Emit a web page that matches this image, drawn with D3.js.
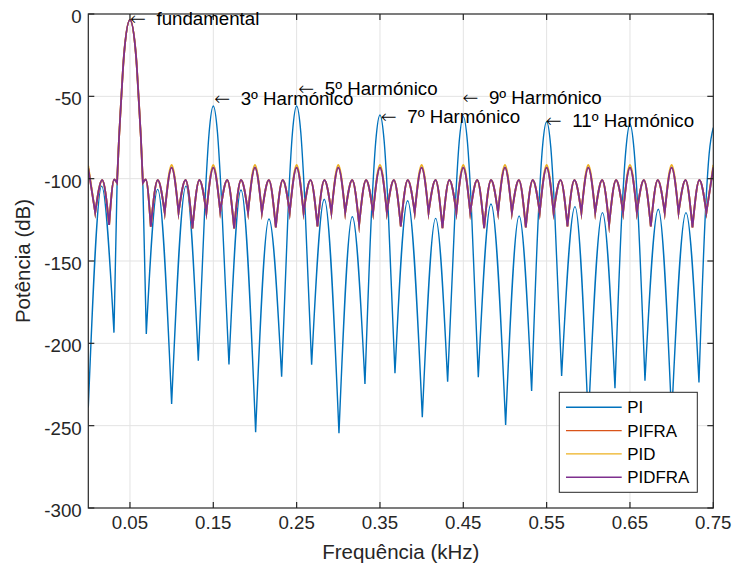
<!DOCTYPE html>
<html>
<head>
<meta charset="utf-8">
<script src="https://cdn.jsdelivr.net/npm/d3@7"></script>
<style>
  body { margin: 0; background: #fff; }
  svg { display: block; }
  text { font-family: "Liberation Sans", Arial, Helvetica, sans-serif; fill: #000; }
</style>
</head>
<body>
<svg id="chart" width="735" height="572"></svg>
<script>
// ---- axes ----
const xTicks = [0.05, 0.15, 0.25, 0.35, 0.45, 0.55, 0.65, 0.75];
const yTicks = [0, -50, -100, -150, -200, -250, -300];
const xLabel = "Frequência (kHz)";
const yLabel = "Potência (dB)";

// ---- series ----
const seriesNames  = ["PI", "PIFRA", "PID", "PIDFRA"];
const seriesColors = ["#0072BD", "#D95319", "#EDB120", "#7E2F8E"];

// PI spectrum: lobe peaks and nulls (kHz, dB)
const piFreq = [
  0.000, 0.016, 0.0308, 0.0345, 0.0369, 0.0397, 0.0428, 0.05, 0.0572, 0.0603, 0.0631, 0.0655, 0.0696,
  0.0832, 0.100, 0.1172, 0.132,
  0.1406, 0.145, 0.150, 0.155, 0.1594, 0.1688,
  0.1832, 0.2008, 0.2168, 0.232,
  0.2406, 0.245, 0.250, 0.255, 0.2594, 0.268,
  0.2832, 0.3008, 0.3168, 0.332,
  0.3406, 0.345, 0.350, 0.355, 0.3594, 0.368,
  0.3832, 0.4008, 0.4168, 0.4312,
  0.4406, 0.445, 0.450, 0.455, 0.4594, 0.468,
  0.4832, 0.5008, 0.517, 0.532,
  0.5406, 0.545, 0.550, 0.555, 0.5594, 0.568,
  0.584, 0.600, 0.617, 0.632,
  0.6406, 0.645, 0.650, 0.655, 0.6594, 0.668,
  0.684, 0.700, 0.7172, 0.7328,
  0.7406, 0.745, 0.750
];
const piDb = [
  -239, -104.5, -193.5, -104, -75, -50, -25, -3.6, -25, -50, -75, -104, -194.3,
  -106.5, -236.8, -104.5, -210.5,
  -108, -72, -55.9, -72, -108, -212.8,
  -106.9, -254, -124.5, -220.3,
  -109, -72, -55.9, -72, -109, -213,
  -112.5, -254.6, -123.1, -224.7,
  -113, -77, -61.3, -77, -113, -218.2,
  -113.4, -244.9, -124.1, -223.3,
  -114, -78, -62.3, -78, -114, -220.6,
  -115.4, -249.6, -122.7, -229,
  -117, -81, -65.4, -81, -117, -219.8,
  -117, -248, -120.6, -227.3,
  -118, -83, -66.8, -83, -118, -222.7,
  -118.6, -245, -120.6, -223.7,
  -120, -85, -69
];

// PIFRA / PID / PIDFRA share one frequency grid (kHz)
const fraFreq = [
  0.000, 0.0083, 0.0167, 0.025, 0.031, 0.0345, 0.0369, 0.0397, 0.0428, 0.050,
  0.0572, 0.0603, 0.0631, 0.0655, 0.069, 0.075, 0.0833, 0.0917,
  0.100, 0.1083, 0.1167, 0.125, 0.1333, 0.1417,
  0.150, 0.1583, 0.1667, 0.175, 0.1833, 0.1917,
  0.200, 0.2083, 0.2167, 0.225, 0.2333, 0.2417,
  0.250, 0.2583, 0.2667, 0.275, 0.2833, 0.2917,
  0.300, 0.3083, 0.3167, 0.325, 0.3333, 0.3417,
  0.350, 0.3583, 0.3667, 0.375, 0.3833, 0.3917,
  0.400, 0.4083, 0.4167, 0.425, 0.4333, 0.4417,
  0.450, 0.4583, 0.4667, 0.475, 0.4833, 0.4917,
  0.500, 0.5083, 0.5167, 0.525, 0.5333, 0.5417,
  0.550, 0.5583, 0.5667, 0.575, 0.5833, 0.5917,
  0.600, 0.6083, 0.6167, 0.625, 0.6333, 0.6417,
  0.650, 0.6583, 0.6667, 0.675, 0.6833, 0.6917,
  0.700, 0.7083, 0.7167, 0.725, 0.7333, 0.7417,
  0.750
];
const pidfraDb = [
  -93.7, -120.6, -100.8, -128.1, -100.5, -102.5, -75, -50, -25, -3.6,
  -25, -50, -75, -102.5, -100.5, -129.2, -100.8, -120.6,
  -93.1, -120.6, -100.8, -130.2, -100.8, -120.6,
  -93.1, -120.0, -100.8, -130.2, -100.8, -120.6,
  -93.1, -120.6, -100.8, -129.6, -100.8, -120.6,
  -93.1, -120.6, -100.8, -129.0, -100.8, -120.6,
  -93.1, -120.6, -100.8, -128.0, -100.8, -120.6,
  -93.1, -120.6, -100.8, -129.0, -100.8, -120.6,
  -93.1, -120.6, -100.8, -130.0, -100.8, -120.6,
  -93.1, -120.6, -100.8, -130.0, -100.8, -120.6,
  -93.1, -120.6, -100.8, -129.6, -100.8, -120.6,
  -93.1, -120.6, -100.8, -129.0, -100.8, -120.6,
  -93.1, -120.6, -100.8, -128.0, -100.8, -120.6,
  -93.1, -120.6, -100.8, -129.0, -100.8, -120.6,
  -93.1, -120.6, -100.8, -129.6, -100.8, -120.6,
  -93.1
];
const pidDb = [
  -92.2, -120.6, -100.8, -128.1, -100.5, -102.5, -75, -50, -25, -3.6,
  -25, -50, -75, -102.5, -100.5, -129.2, -100.8, -120.6,
  -91.7, -120.6, -100.8, -130.2, -100.8, -120.6,
  -91.7, -120.0, -100.8, -130.2, -100.8, -120.6,
  -91.7, -120.6, -100.8, -129.6, -100.8, -120.6,
  -91.7, -120.6, -100.8, -129.0, -100.8, -120.6,
  -91.7, -120.6, -100.8, -128.0, -100.8, -120.6,
  -91.7, -120.6, -100.8, -129.0, -100.8, -120.6,
  -91.7, -120.6, -100.8, -130.0, -100.8, -120.6,
  -91.7, -120.6, -100.8, -130.0, -100.8, -120.6,
  -91.7, -120.6, -100.8, -129.6, -100.8, -120.6,
  -91.7, -120.6, -100.8, -129.0, -100.8, -120.6,
  -91.7, -120.6, -100.8, -128.0, -100.8, -120.6,
  -91.7, -120.6, -100.8, -129.0, -100.8, -120.6,
  -91.7, -120.6, -100.8, -129.6, -100.8, -120.6,
  -91.7
];
const pifraDb = [
  -93.9, -120.6, -100.9, -128.1, -100.6, -102.5, -75, -50, -25, -3.6,
  -25, -50, -75, -102.5, -100.6, -129.2, -100.9, -120.6,
  -93.3, -120.6, -100.9, -130.2, -100.9, -120.6,
  -93.3, -120.0, -100.9, -130.2, -100.9, -120.6,
  -93.3, -120.6, -100.9, -129.6, -100.9, -120.6,
  -93.3, -120.6, -100.9, -129.0, -100.9, -120.6,
  -93.3, -120.6, -100.9, -128.0, -100.9, -120.6,
  -93.3, -120.6, -100.9, -129.0, -100.9, -120.6,
  -93.3, -120.6, -100.9, -130.0, -100.9, -120.6,
  -93.3, -120.6, -100.9, -130.0, -100.9, -120.6,
  -93.3, -120.6, -100.9, -129.6, -100.9, -120.6,
  -93.3, -120.6, -100.9, -129.0, -100.9, -120.6,
  -93.3, -120.6, -100.9, -128.0, -100.9, -120.6,
  -93.3, -120.6, -100.9, -129.0, -100.9, -120.6,
  -93.3, -120.6, -100.9, -129.6, -100.9, -120.6,
  -93.3
];

// ---- annotations ----
const noteText = ["fundamental", "3º Harmónico", "5º Harmónico", "7º Harmónico", "9º Harmónico", "11º Harmónico"];
const noteFreq = [0.05, 0.151, 0.252, 0.351, 0.449, 0.549];
const noteDb   = [-3.2, -51.8, -45.7, -62.4, -51.2, -64.8];

// ---- layout ----
const W = 735, H = 572;
const plot = { left: 88.3, right: 713.3, top: 14, bottom: 508 };
const fontAxis = 18.7, fontLabel = 20.5, fontLegend = 16.9;

const svg = d3.select("#chart");
const x = d3.scaleLinear().domain([0, 0.75]).range([plot.left, plot.right]);
const y = d3.scaleLinear().domain([-300, 0]).range([plot.bottom, plot.top]);

svg.append("rect").attr("width", W).attr("height", H).attr("fill", "#fff");

// grid
const grid = svg.append("g").attr("stroke", "#e3e3e3").attr("stroke-width", 1);
grid.selectAll(".gx").data(xTicks.filter(t => t < 0.75)).join("line")
  .attr("x1", d => x(d)).attr("x2", d => x(d))
  .attr("y1", plot.top).attr("y2", plot.bottom);
grid.selectAll(".gy").data(yTicks.filter(t => t > -300 && t < 0)).join("line")
  .attr("y1", d => y(d)).attr("y2", d => y(d))
  .attr("x1", plot.left).attr("x2", plot.right);

// series paths: each lobe (null -> peak -> null) is a monotone segment, joined at sharp cusps
svg.append("clipPath").attr("id", "plotclip").append("rect")
  .attr("x", plot.left).attr("y", plot.top)
  .attr("width", plot.right - plot.left).attr("height", plot.bottom - plot.top);

const lobe = d3.line().x(d => x(d[0])).y(d => y(d[1])).curve(d3.curveMonotoneX);

function lobePath(freq, db) {
  const pts = freq.map((f, i) => [f, db[i]]);
  const cuts = [0];
  for (let i = 1; i < pts.length - 1; i++) {
    if (pts[i][1] < pts[i - 1][1] && pts[i][1] < pts[i + 1][1]) cuts.push(i);
  }
  cuts.push(pts.length - 1);
  let d = "";
  for (let k = 0; k < cuts.length - 1; k++) {
    const seg = lobe(pts.slice(cuts[k], cuts[k + 1] + 1));
    d += k === 0 ? seg : seg.replace(/^M[^A-Za-z]*/, "");
  }
  return d;
}

const seriesData = [
  [piFreq, piDb], [fraFreq, pifraDb], [fraFreq, pidDb], [fraFreq, pidfraDb]
];
const widths = [1.4, 1.8, 1.8, 1.8];
const lines = svg.append("g").attr("clip-path", "url(#plotclip)");
seriesData.forEach((s, i) => {
  lines.append("path")
    .attr("d", lobePath(s[0], s[1]))
    .attr("fill", "none")
    .attr("stroke", seriesColors[i])
    .attr("stroke-width", widths[i])
    .attr("stroke-miterlimit", 10);
});

// axes box and ticks
const axisColor = "#262626";
const tickLen = 6;
const axes = svg.append("g").attr("stroke", axisColor).attr("stroke-width", 1.2);
axes.append("rect")
  .attr("x", plot.left).attr("y", plot.top)
  .attr("width", plot.right - plot.left).attr("height", plot.bottom - plot.top)
  .attr("fill", "none");
xTicks.forEach(t => {
  axes.append("line").attr("x1", x(t)).attr("x2", x(t)).attr("y1", plot.bottom).attr("y2", plot.bottom - tickLen);
  axes.append("line").attr("x1", x(t)).attr("x2", x(t)).attr("y1", plot.top).attr("y2", plot.top + tickLen);
});
yTicks.forEach(t => {
  axes.append("line").attr("y1", y(t)).attr("y2", y(t)).attr("x1", plot.left).attr("x2", plot.left + tickLen);
  axes.append("line").attr("y1", y(t)).attr("y2", y(t)).attr("x1", plot.right).attr("x2", plot.right - tickLen);
});

// tick labels
svg.append("g").selectAll("text").data(xTicks).join("text")
  .attr("x", d => x(d)).attr("y", plot.bottom + 21)
  .attr("text-anchor", "middle").attr("font-size", fontAxis)
  .style("fill", axisColor)
  .text(d => d3.format(".2f")(d));
svg.append("g").selectAll("text").data(yTicks).join("text")
  .attr("x", plot.left - 6.6).attr("y", d => y(d) + 9)
  .attr("text-anchor", "end").attr("font-size", fontAxis)
  .style("fill", axisColor)
  .text(d => d3.format("d")(d).replace("−", "-"));

// axis labels
svg.append("text")
  .attr("x", (plot.left + plot.right) / 2).attr("y", 559)
  .attr("text-anchor", "middle").attr("font-size", fontLabel)
  .style("fill", axisColor)
  .text(xLabel);
svg.append("text")
  .attr("transform", `translate(30,${(plot.top + plot.bottom) / 2}) rotate(-90)`)
  .attr("text-anchor", "middle").attr("font-size", fontLabel)
  .style("fill", axisColor)
  .text(yLabel);

// annotations: a long thin left arrow followed by the label
const notes = svg.append("g").selectAll("text").data(noteText).join("text")
  .attr("x", (d, i) => x(noteFreq[i]))
  .attr("y", (d, i) => y(noteDb[i]) + 6)
  .attr("font-size", fontAxis);
notes.append("tspan")
  .style("font-family", "'DejaVu Sans', sans-serif")
  .attr("font-size", 19)
  .attr("font-weight", 200)
  .text("\u2190");
notes.append("tspan")
  .attr("x", (d, i) => x(noteFreq[i]) + 26.5)
  .text(d => d);

// legend
const leg = { x: 559.3, y: 392.3, w: 138, h: 100, row: 23.3, first: 15 };
const lg = svg.append("g");
lg.append("rect").attr("x", leg.x).attr("y", leg.y).attr("width", leg.w).attr("height", leg.h)
  .attr("fill", "#fff").attr("stroke", axisColor).attr("stroke-width", 1);
seriesNames.forEach((name, i) => {
  const ry = leg.y + leg.first + i * leg.row;
  lg.append("line").attr("x1", leg.x + 6.7).attr("x2", leg.x + 62.4)
    .attr("y1", ry).attr("y2", ry)
    .attr("stroke", seriesColors[i]).attr("stroke-width", 1.4);
  lg.append("text").attr("x", leg.x + 68).attr("y", ry + 6)
    .attr("font-size", fontLegend).text(name);
});
</script>
</body>
</html>
